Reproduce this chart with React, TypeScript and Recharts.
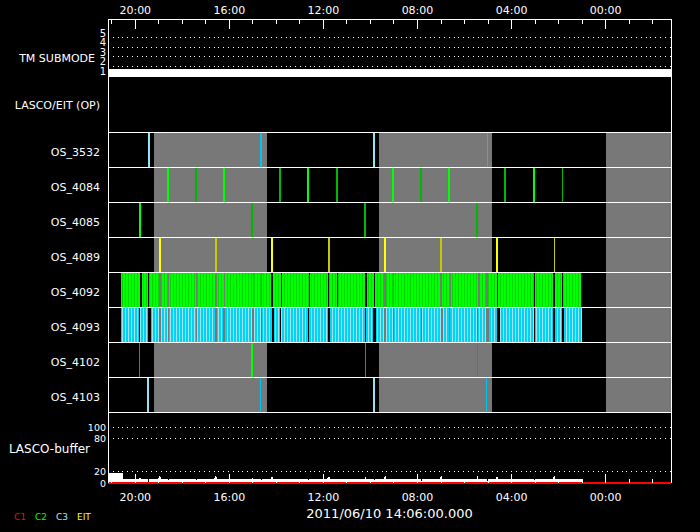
import React from "react";
import {
  ComposedChart,
  XAxis,
  YAxis,
  CartesianGrid,
  Line,
  Area,
  ReferenceArea,
  ReferenceLine,
} from "recharts";

const FONT = "'DejaVu Sans', Verdana, sans-serif";
const GRAY = "#787878";

// clock hours, the time axis runs right-to-left
const hourTicks = [21, 20, 19, 18, 17, 16, 15, 14, 13, 12, 11, 10, 9, 8, 7, 6, 5, 4, 3, 2, 1, 0, -1, -2];
const xDomain: [number, number] = [-2.78, 21.16];

const tmSubmode = [
  { h: 21.16, mode: 1 },
  { h: -2.78, mode: 1 },
];
const submodeTicks = [1, 2, 3, 4, 5];

const opLabel = "LASCO/EIT (OP)";
const osRows = ["OS_3532", "OS_4084", "OS_4085", "OS_4089", "OS_4092", "OS_4093", "OS_4102", "OS_4103"];

// shaded (grey) periods [from, to]
const offPeriods = [
  [19.2, 14.41],
  [9.63, 4.82],
  [0.0, -2.78],
];

// single exposures: t = hour, s = 1 bright / 2 dim
const os3532 = [
  { t: 19.42, s: 1 },
  { t: 14.65, s: 2 },
  { t: 9.84, s: 1 },
  { t: 5.03, s: 2 },
];
const os4084 = [
  { t: 18.61, s: 1 },
  { t: 17.42, s: 2 },
  { t: 16.23, s: 1 },
  { t: 13.84, s: 2 },
  { t: 12.65, s: 1 },
  { t: 11.42, s: 2 },
  { t: 9.03, s: 1 },
  { t: 7.84, s: 2 },
  { t: 6.65, s: 1 },
  { t: 4.27, s: 2 },
  { t: 3.03, s: 1 },
  { t: 1.84, s: 2 },
];
const os4085 = [
  { t: 19.8, s: 1 },
  { t: 15.03, s: 2 },
  { t: 10.23, s: 2 },
  { t: 5.46, s: 2 },
];
const os4089 = [
  { t: 18.95, s: 1 },
  { t: 16.57, s: 2 },
  { t: 14.18, s: 1 },
  { t: 11.76, s: 2 },
  { t: 9.37, s: 1 },
  { t: 6.99, s: 2 },
  { t: 4.61, s: 1 },
  { t: 2.18, s: 2 },
];
const os4102 = [
  { t: 19.83, s: 2 },
  { t: 15.02, s: 1 },
  { t: 10.21, s: 2 },
  { t: 5.45, s: 2 },
];
const os4103 = [
  { t: 19.45, s: 1 },
  { t: 14.68, s: 2 },
  { t: 9.87, s: 1 },
  { t: 5.06, s: 2 },
];

// dense sequences, covered intervals [from, to]
const os4092 = [
  [20.61, 19.8], [19.71, 19.46], [19.4, 18.99], [18.92, 18.61], [18.57, 17.42],
  [17.37, 16.6], [16.52, 16.23], [16.18, 15.0], [14.96, 14.65], [14.61, 14.24],
  [14.14, 13.81], [13.77, 12.62], [12.57, 11.8], [11.76, 11.43], [11.37, 10.24],
  [10.14, 9.84], [9.8, 9.42], [9.33, 9.03], [8.99, 7.05], [6.95, 6.62],
  [6.58, 5.42], [5.33, 5.09], [5.02, 4.61], [4.57, 3.05], [2.99, 2.24],
  [2.14, 1.86], [1.8, 1.03],
];
const os4093 = [
  [20.61, 19.86], [19.8, 19.47], [19.33, 18.99], [18.91, 18.61], [18.57, 17.42],
  [17.36, 16.61], [16.52, 16.26], [16.18, 15.03], [14.96, 14.65], [14.6, 14.2],
  [14.1, 13.86], [13.8, 12.65], [12.6, 11.8], [11.7, 10.23], [10.17, 9.9],
  [9.76, 9.42], [9.33, 9.03], [8.98, 7.87], [7.8, 7.0], [6.91, 6.65],
  [6.61, 5.49], [5.42, 5.09], [4.96, 4.61], [4.51, 3.05], [2.99, 2.24],
  [2.14, 1.84], [1.77, 1.0],
];

// LASCO buffer fill
const bufferTotal = [
  { h: 21.16, v: 18 }, { h: 20.66, v: 18 }, { h: 20.65, v: 23 }, { h: 20.63, v: 18 },
  { h: 20.54, v: 18 }, { h: 20.53, v: 7 },
  { h: 19.83, v: 7 }, { h: 19.8, v: 14 }, { h: 19.77, v: 7 },
  { h: 19.45, v: 7 }, { h: 19.43, v: 0 }, { h: 19.41, v: 7 },
  { h: 19.05, v: 7 }, { h: 18.95, v: 13 }, { h: 18.9, v: 7 },
  { h: 18.62, v: 7 }, { h: 18.6, v: 0 }, { h: 18.58, v: 7 },
  { h: 17.43, v: 7 }, { h: 17.41, v: 0 }, { h: 17.39, v: 7 },
  { h: 16.65, v: 7 }, { h: 16.57, v: 13 }, { h: 16.52, v: 7 },
  { h: 15.06, v: 7 }, { h: 15.03, v: 12 }, { h: 15.0, v: 7 },
  { h: 14.67, v: 7 }, { h: 14.65, v: 0 }, { h: 14.63, v: 7 },
  { h: 14.26, v: 7 }, { h: 14.18, v: 13 }, { h: 14.13, v: 7 },
  { h: 12.67, v: 7 }, { h: 12.65, v: 0 }, { h: 12.63, v: 7 },
  { h: 11.84, v: 7 }, { h: 11.76, v: 13 }, { h: 11.71, v: 7 },
  { h: 10.25, v: 7 }, { h: 10.22, v: 12 }, { h: 10.19, v: 7 },
  { h: 9.86, v: 7 }, { h: 9.84, v: 0 }, { h: 9.82, v: 7 },
  { h: 9.45, v: 7 }, { h: 9.37, v: 13 }, { h: 9.32, v: 7 },
  { h: 7.86, v: 7 }, { h: 7.84, v: 0 }, { h: 7.82, v: 7 },
  { h: 7.07, v: 7 }, { h: 6.99, v: 13 }, { h: 6.94, v: 7 },
  { h: 5.48, v: 7 }, { h: 5.45, v: 12 }, { h: 5.42, v: 7 },
  { h: 5.05, v: 7 }, { h: 5.03, v: 0 }, { h: 5.01, v: 7 },
  { h: 4.69, v: 7 }, { h: 4.61, v: 13 }, { h: 4.56, v: 7 },
  { h: 3.06, v: 7 }, { h: 3.04, v: 0 }, { h: 3.02, v: 7 },
  { h: 2.26, v: 7 }, { h: 2.18, v: 13 }, { h: 2.13, v: 7 },
  { h: 1.01, v: 7 }, { h: 1.0, v: 0 }, { h: -2.78, v: 0 },
];
const c1Buffer = [
  { h: 21.16, v: 0 },
  { h: -2.78, v: 0 },
];
const bufferTicks = [0, 20, 80, 100];
const dateLabel = "2011/06/10 14:06:00.000";

const C3 = ["#8ee6f4", "#00c4ec"];
const C2 = ["#00ff00", "#00b800"];
const EIT = ["#ffff00", "#c8c800"];

const fmtHour = (h: number) => {
  const v = ((h % 24) + 24) % 24;
  return `${String(v).padStart(2, "0")}:00`;
};

function TopTick({ x, payload }: any) {
  const major = payload.value % 4 === 0;
  return (
    <g>
      <line x1={x} x2={x} y1={19} y2={major ? 29 : 24} stroke="#fff" />
      {major && (
        <text x={x} y={14} textAnchor="middle" fill="#fff" fontSize={11} fontFamily={FONT}>
          {fmtHour(payload.value)}
        </text>
      )}
    </g>
  );
}

function BottomTick({ x, payload }: any) {
  const major = payload.value % 4 === 0;
  return (
    <g>
      <line x1={x} x2={x} y1={70} y2={major ? 61 : 66} stroke="#fff" />
      {major && (
        <text x={x} y={88} textAnchor="middle" fill="#fff" fontSize={11} fontFamily={FONT}>
          {fmtHour(payload.value)}
        </text>
      )}
    </g>
  );
}

function SubmodeTick({ y, payload }: any) {
  return (
    <text x={106} y={y - 1} textAnchor="end" fill="#fff" fontSize={10} fontFamily={FONT}>
      {payload.value}
    </text>
  );
}

function BufferTick({ y, payload }: any) {
  return (
    <text x={106} y={y + 3.5} textAnchor="end" fill="#fff" fontSize={9.5} fontFamily={FONT}>
      {payload.value}
    </text>
  );
}

function OsTick({ y, payload }: any) {
  const v = payload.value;
  const name = v < 0 ? opLabel : osRows[Math.floor(v)];
  return (
    <text x={100} y={v < 0 ? y + 4 : y + 6} textAnchor="end" fill="#fff" fontSize={11} fontFamily={FONT}>
      {name}
    </text>
  );
}

function PanelTitle({ tx, ty, text, size, anchor }: any) {
  return (
    <text x={tx} y={ty} textAnchor={anchor || "end"} fill="#fff" fontSize={size || 11} fontFamily={FONT}>
      {text}
    </text>
  );
}

const spikeRows = [
  { row: 0, data: os3532, pal: C3 },
  { row: 1, data: os4084, pal: C2 },
  { row: 2, data: os4085, pal: C2 },
  { row: 3, data: os4089, pal: EIT },
  { row: 6, data: os4102, pal: C2 },
  { row: 7, data: os4103, pal: C3 },
];

const osTicks = [-0.7857, 0.5, 1.5, 2.5, 3.5, 4.5, 5.5, 6.5, 7.5];

export default function App() {
  return (
    <div style={{ position: "relative", width: 700, height: 532, background: "#000", overflow: "hidden" }}>
      <style>{`body{margin:0;background:#000} svg line, svg rect, svg path{shape-rendering:crispEdges}`}</style>

      {/* TM submode panel */}
      <div style={{ position: "absolute", left: 0, top: 0 }}>
        <ComposedChart width={700} height={77} data={tmSubmode} margin={{ top: 0, right: 0, bottom: 0, left: 0 }}>
          <CartesianGrid vertical={false} horizontalValues={[2, 3, 4, 5]} stroke="#fff" strokeDasharray="1 3.8" />
          <XAxis
            dataKey="h"
            type="number"
            orientation="top"
            domain={xDomain}
            reversed
            allowDataOverflow
            ticks={hourTicks}
            interval={0}
            tick={<TopTick />}
            tickLine={false}
            axisLine={{ stroke: "#fff" }}
            height={19}
          />
          <YAxis
            type="number"
            domain={[0.878, 6.962]}
            allowDataOverflow
            ticks={submodeTicks}
            interval={0}
            tick={<SubmodeTick />}
            tickLine={false}
            axisLine={{ stroke: "#fff" }}
            width={108}
            label={<PanelTitle tx={95} ty={62} text="TM SUBMODE" />}
          />
          <YAxis yAxisId="r" orientation="right" domain={[0, 1]} width={29} tick={false} tickLine={false} axisLine={{ stroke: "#fff" }} />
          <Line dataKey="mode" type="linear" stroke="#fff" strokeWidth={14} dot={false} isAnimationActive={false} />
        </ComposedChart>
      </div>

      {/* OP + OS rows panel */}
      <div style={{ position: "absolute", left: 0, top: 77 }}>
        <ComposedChart width={700} height={336} margin={{ top: 0, right: 0, bottom: 0, left: 0 }}>
          <defs>
            <pattern id="stripeGreen" patternUnits="userSpaceOnUse" width="3" height="10">
              <rect x="0" y="0" width="2" height="10" fill="#00ff00" />
              <rect x="2" y="0" width="1" height="10" fill="#00d800" />
            </pattern>
            <pattern id="stripeCyan" patternUnits="userSpaceOnUse" width="3" height="10">
              <rect x="0" y="0" width="2" height="10" fill="#00d4f4" />
              <rect x="2" y="0" width="1" height="10" fill="#a4e2ee" />
            </pattern>
          </defs>
          <XAxis dataKey="h" type="number" domain={xDomain} reversed allowDataOverflow hide />
          <YAxis
            type="number"
            domain={[-1.5714, 8]}
            reversed
            allowDataOverflow
            ticks={osTicks}
            interval={0}
            tick={<OsTick />}
            tickLine={false}
            axisLine={{ stroke: "#fff" }}
            width={108}
          />
          <YAxis yAxisId="r" orientation="right" domain={[0, 1]} width={29} tick={false} tickLine={false} axisLine={{ stroke: "#fff" }} />
          {offPeriods.map((p, i) => (
            <ReferenceArea key={`off${i}`} x1={p[0]} x2={p[1]} y1={0} y2={8} fill={GRAY} fillOpacity={1} stroke="none" />
          ))}
          {os4092.map((p, i) => (
            <ReferenceArea key={`g${i}`} x1={p[0]} x2={p[1]} y1={4} y2={5} fill="url(#stripeGreen)" fillOpacity={1} stroke="none" />
          ))}
          {os4093.map((p, i) => (
            <ReferenceArea key={`c${i}`} x1={p[0]} x2={p[1]} y1={5} y2={6} fill="url(#stripeCyan)" fillOpacity={1} stroke="none" />
          ))}
          {spikeRows.map((r) =>
            r.data.map((d, i) => (
              <ReferenceLine
                key={`s${r.row}-${i}`}
                segment={[
                  { x: d.t, y: r.row },
                  { x: d.t, y: r.row + 1 },
                ]}
                stroke={r.pal[d.s - 1]}
                strokeWidth={d.s === 1 ? 2 : 1.5}
              />
            ))
          )}
          {[0, 1, 2, 3, 4, 5, 6, 7, 8].map((y) => (
            <ReferenceLine key={`sep${y}`} y={y} stroke="#fff" strokeWidth={1.2} />
          ))}
        </ComposedChart>
      </div>

      {/* LASCO buffer panel */}
      <div style={{ position: "absolute", left: 0, top: 413 }}>
        <ComposedChart width={700} height={119} data={bufferTotal} margin={{ top: 0, right: 0, bottom: 0, left: 0 }}>
          <CartesianGrid vertical={false} horizontalValues={[20, 80, 100]} stroke="#fff" strokeDasharray="1 3.8" />
          <XAxis
            dataKey="h"
            type="number"
            domain={xDomain}
            reversed
            allowDataOverflow
            ticks={hourTicks}
            interval={0}
            tick={<BottomTick />}
            tickLine={false}
            axisLine={false}
            height={49}
            label={<PanelTitle tx={389.5} ty={105} text={dateLabel} size={13} anchor="middle" />}
          />
          <YAxis
            type="number"
            domain={[0, 125]}
            ticks={bufferTicks}
            interval={0}
            tick={<BufferTick />}
            tickLine={false}
            axisLine={{ stroke: "#fff" }}
            width={108}
            label={<PanelTitle tx={90} ty={40} text="LASCO-buffer" size={12} />}
          />
          <YAxis yAxisId="r" orientation="right" domain={[0, 1]} width={29} tick={false} tickLine={false} axisLine={{ stroke: "#fff" }} />
          <Area dataKey="v" type="linear" fill="#fff" fillOpacity={1} stroke="none" isAnimationActive={false} />
          <Line data={c1Buffer} dataKey="v" type="linear" stroke="#ff0000" strokeWidth={2} dot={false} isAnimationActive={false} />
        </ComposedChart>
      </div>

      {/* camera legend */}
      <div style={{ position: "absolute", left: 0, top: 511, fontFamily: FONT, fontSize: 9, lineHeight: "12px" }}>
        <span style={{ position: "absolute", left: 14, color: "#ff0000" }}>C1</span>
        <span style={{ position: "absolute", left: 35, color: "#00ff00" }}>C2</span>
        <span style={{ position: "absolute", left: 56, color: "#a0e8ff" }}>C3</span>
        <span style={{ position: "absolute", left: 77, color: "#ffff00" }}>EIT</span>
      </div>
    </div>
  );
}
